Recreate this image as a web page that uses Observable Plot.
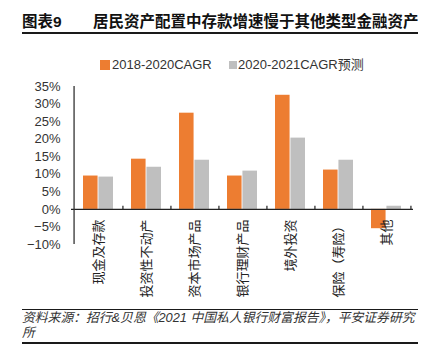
<!DOCTYPE html>
<html>
<head>
<meta charset="utf-8">
<script src="https://cdn.jsdelivr.net/npm/d3@7"></script>
<script src="https://cdn.jsdelivr.net/npm/@observablehq/plot@0.6"></script>
<style>
  html, body { margin: 0; padding: 0; background: #fff; }
  #wrap { position: relative; width: 426px; height: 359px; overflow: hidden; font-family: "Liberation Sans", "Noto Sans CJK SC", sans-serif; color: #333; }
  .title { position: absolute; top: 13px; font-size: 15.5px; font-weight: bold; font-family: "Liberation Sans", "Noto Sans CJK SC", sans-serif; color: #111; line-height: 18px; white-space: nowrap; }
  .hr { position: absolute; left: 22px; width: 396px; background: #1a1a1a; }
  .legend { position: absolute; top: 57px; left: 0; width: 426px; height: 16px; font-size: 13px; color: #333; }
  .sw { position: absolute; }
  .lt { position: absolute; top: 0; line-height: 16px; white-space: nowrap; }
  #chart { position: absolute; top: 75px; left: 0; }
  .caption { position: absolute; top: 311px; left: 22px; width: 400px; font-size: 12.8px; font-style: italic; line-height: 14.5px; color: #333; white-space: nowrap; }
</style>
</head>
<body>
<div id="wrap">
  <div class="title" style="left:22px">图表9</div>
  <div class="title" style="left:93px">居民资产配置中存款增速慢于其他类型金融资产</div>
  <div class="hr" style="top:31.5px;height:2px"></div>
  <div class="legend" id="legend"></div>
  <div id="chart"></div>
  <div class="hr" style="top:308.5px;height:1.6px"></div>
  <div class="caption">资料来源：招行&amp;贝恩《2021 中国私人银行财富报告》，平安证券研究<br>所</div>
  <div class="hr" style="top:342px;height:1.6px"></div>
</div>
<script>
const categories = ["现金及存款", "投资性不动产", "资本市场产品", "银行理财产品", "境外投资", "保险（寿险）", "其他"];
const cagr2018_2020 = [9.5, 14.3, 27.4, 9.5, 32.5, 11.2, -5.5];
const cagr2020_2021 = [9.2, 12.0, 14.0, 10.9, 20.3, 14.0, 0.9];
const seriesNames = ["2018-2020CAGR", "2020-2021CAGR预测"];
const seriesColors = ["#ED7D31", "#BFBFBF"];
const yTicks = [-10, -5, 0, 5, 10, 15, 20, 25, 30, 35];

const W = 426, H = 230, mL = 71, mR = 13, mT = 11, mB = 61;
const half = (W - mL - mR) / categories.length / 2;

const rows1 = categories.map((c, i) => ({cat: c, value: cagr2018_2020[i]}));
const rows2 = categories.map((c, i) => ({cat: c, value: cagr2020_2021[i]}));

const fmt = d => (d < 0 ? "\u2212" : "") + Math.abs(d) + "%";

const chart = Plot.plot({
  width: W, height: H,
  marginLeft: mL, marginRight: mR, marginTop: mT, marginBottom: mB,
  style: {fontFamily: "'Liberation Sans', 'Noto Sans CJK SC', sans-serif", fontSize: "13px", color: "#333", background: "transparent", overflow: "visible"},
  x: {domain: categories, padding: 0, axis: null},
  y: {domain: [-10, 35], ticks: yTicks, tickFormat: fmt, tickSize: 0, tickPadding: 11, label: null},
  marks: [
    Plot.barY(rows1, {x: "cat", y: "value", fill: seriesColors[0], insetLeft: 9, insetRight: half}),
    Plot.barY(rows2, {x: "cat", y: "value", fill: seriesColors[1], insetLeft: half, insetRight: 9}),
    Plot.ruleY([0], {stroke: "#222", strokeWidth: 1.3}),
    Plot.ruleX(categories, {x: d => d, y1: 0, y2: 0.9, dx: half, stroke: "#222", strokeWidth: 1.2}),
    Plot.ruleX([categories[0]], {x: d => d, y1: -10, y2: 35, dx: -half, stroke: "#333", strokeWidth: 1.3}),
    Plot.text(categories, {x: d => d, y: () => 0, text: d => d, rotate: -90, textAnchor: "end", dy: 10, fontSize: 13, fill: "#222", fontFamily: "'Noto Sans CJK SC', sans-serif"})
  ]
});
document.getElementById("chart").appendChild(chart);

// legend
const legend = document.getElementById("legend");
const legendItems = [
  {name: seriesNames[0], color: seriesColors[0], sx: 100, size: 10, tx: 112},
  {name: seriesNames[1], color: seriesColors[1], sx: 229, size: 8, tx: 238}
];
for (const it of legendItems) {
  const sw = document.createElement("div");
  sw.className = "sw";
  sw.style.left = it.sx + "px";
  sw.style.top = (8 - it.size / 2) + "px";
  sw.style.width = it.size + "px";
  sw.style.height = it.size + "px";
  sw.style.background = it.color;
  legend.appendChild(sw);
  const t = document.createElement("div");
  t.className = "lt";
  t.style.left = it.tx + "px";
  t.textContent = it.name;
  legend.appendChild(t);
}
</script>
</body>
</html>
